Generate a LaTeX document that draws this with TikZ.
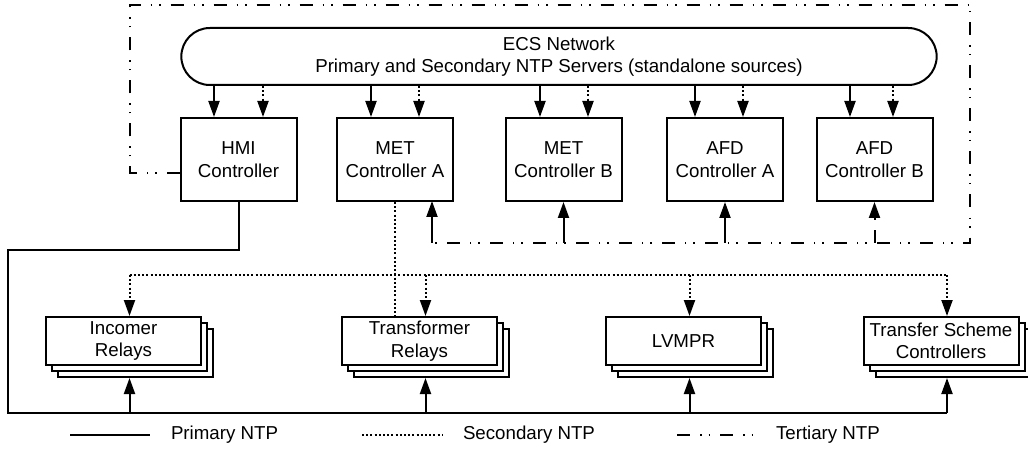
\documentclass[tikz,border=0pt]{standalone}
\usepackage{fontspec}
\setmainfont{Liberation Sans}
\usetikzlibrary{positioning}
\usetikzlibrary{calc}
\usetikzlibrary{arrows.meta}
\usetikzlibrary{shapes.misc}
\usetikzlibrary{shadows}

\begin{document}
\begin{tikzpicture}[x=1pt, y=-1pt, >={Triangle[length=16pt,width=11pt]}, line width=2pt, font=\fontsize{18.7}{22.5}\selectfont]
			\tikzstyle{ctrl}=[draw=black, fill=white, minimum width=116pt, minimum height=83pt, align=center, inner sep=2pt]
			\tikzstyle{relay}=[draw=black, fill=white, minimum width=155pt, minimum height=48pt, align=center, inner sep=2pt, double copy shadow={shadow xshift=6pt, shadow yshift=-6pt}]
			\tikzstyle{prim}=[draw=black]
			\tikzstyle{sec}=[draw=black, dash pattern=on 2pt off 2.2pt]
			\tikzstyle{tert}=[draw=black, dash pattern=on 13pt off 10pt on 1.5pt off 7pt on 1.5pt off 10pt]
			\tikzstyle{legtxt}=[anchor=west, inner sep=0pt]
			
			\useasboundingbox (0,0) rectangle (1028,449);
			\clip (0,0) rectangle (1028,449);
			
			\draw node at (559,56.5) [rounded rectangle, draw=black, minimum width=762pt, minimum height=57pt, align=center] (ecs) {ECS Network\\Primary and Secondary NTP Servers (standalone sources)};
			
			\draw node at (238.5,159.5) [ctrl] (hmi) {HMI\\Controller};
			\draw node at (395,159.5) [ctrl] (meta) {MET\\Controller A};
			\draw node at (563.5,159.5) [ctrl] (metb) {MET\\Controller B};
			\draw node at (725,159.5) [ctrl] (afda) {AFD\\Controller A};
			\draw node at (874.5,159.5) [ctrl] (afdb) {AFD\\Controller B};
			
			\foreach \c/\p/\s in {hmi/-24.5/24.5, meta/-24/24, metb/-23.5/24.5, afda/-30/18, afdb/-24.5/18.5} {
				\draw [prim,->] ([xshift=\p pt]\c.north |- ecs.south) to ([xshift=\p pt]\c.north);
				\draw [sec,->] ([xshift=\s pt]\c.north |- ecs.south) to ([xshift=\s pt]\c.north);
			}
			
			% tertiary loop
			\coordinate (ttl) at (130,5);
			\coordinate (tbr) at (970,243);
			\coordinate (tma) at (432,201);
			\draw [tert] ([yshift=-13.5pt]hmi.west) -| (ttl) -| (tbr) -- (tbr -| tma);
			\draw [prim,->] (tbr -| tma) to (tma);
			\draw [prim,->] (tbr -| metb.south) to (metb.south);
			\draw [prim,->] (tbr -| afda.south) to (afda.south);
			\draw [tert,->] (tbr -| afdb.south) to (afdb.south);
			
			\draw node at (123.5,341) [relay] (inc) {Incomer\\Relays};
			\draw node at (419.5,341) [relay] (trf) {Transformer\\Relays};
			\draw node at (683.5,341) [relay] (lvm) {LVMPR};
			\draw node at (941,341) [relay] (tsc) {Transfer Scheme\\Controllers};
			
			\coordinate (pl) at (8,250);
			\coordinate (pb) at (8,413);
			\coordinate (bus) at (0,275);
			\draw [prim] (hmi.south) |- (pl) -- (pb) -- ([xshift=6pt]tsc.south |- pb);
			\draw [sec] (meta.south) to (meta.south |- trf.north);
			\draw [sec] ([xshift=6pt]inc.north |- bus) to ([xshift=6pt]tsc.north |- bus);
			
			\foreach \r in {inc,trf,lvm,tsc} {
				\draw [prim,->] ([xshift=6pt]\r.south |- pb) to ([xshift=6pt,yshift=-12pt]\r.south);
				\draw [sec,->] ([xshift=6pt]\r.north |- bus) to ([xshift=6pt]\r.north);
			}
			
			\draw node at (170,435) [legtxt] (lgp) {Primary NTP};
			\draw node at (462,435) [legtxt] (lgs) {Secondary NTP};
			\draw node at (775,435) [legtxt] (lgt) {Tertiary NTP};
			\draw [prim] ([xshift=-100pt]lgp.west) to ([xshift=-20pt]lgp.west);
			\draw [sec] ([xshift=-100pt]lgs.west) to ([xshift=-19pt]lgs.west);
			\draw [tert] ([xshift=-98pt]lgt.west) to ([xshift=-18pt]lgt.west);
\end{tikzpicture}
\end{document}
